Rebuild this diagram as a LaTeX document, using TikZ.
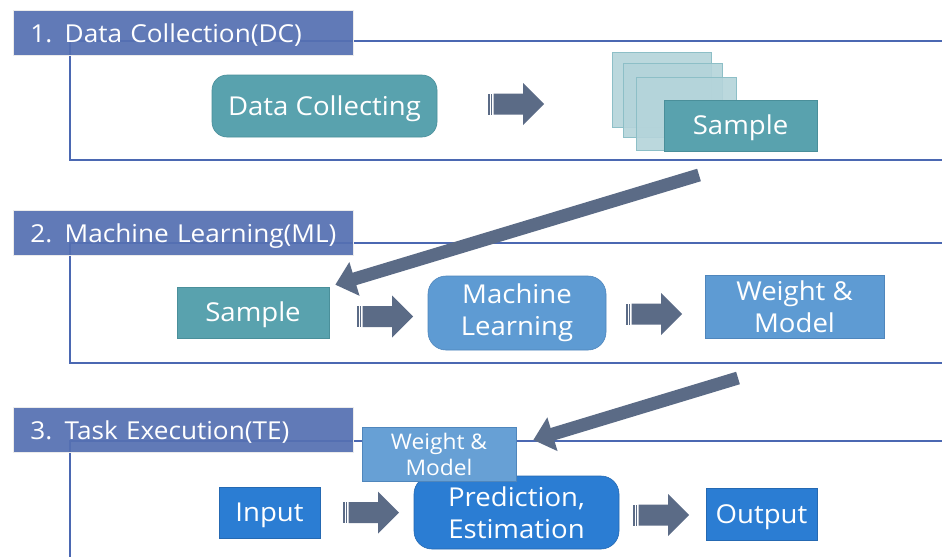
\documentclass[tikz,border=0pt]{standalone}
\usepackage{fontspec}
\setmainfont{Open Sans}[FakeStretch=1.06]
\usetikzlibrary{arrows.meta}

\definecolor{hdrblue}{HTML}{5570B2}
\definecolor{framecol}{HTML}{4B68B2}
\definecolor{tealfill}{HTML}{59A2AE}
\definecolor{tealedge}{HTML}{4A8F9A}
\definecolor{sheetfill}{HTML}{B4D4DA}
\definecolor{sheetedge}{HTML}{8DBFC7}
\definecolor{midblue}{HTML}{5E9BD3}
\definecolor{midedge}{HTML}{4F86BC}
\definecolor{softblue}{HTML}{67A0D5}
\definecolor{deepblue}{HTML}{2B7DD3}
\definecolor{deepedge}{HTML}{2569B2}
\definecolor{arrowgray}{HTML}{5B6B86}

\newcommand{\hdrtext}[1]{\hspace*{17pt}#1}

\tikzset{
  x=1pt, y=-1pt,
  every node/.style={inner sep=0pt, text=white, align=center},
  bigfont/.style={font=\fontsize{26}{32}\selectfont},
  smallfont/.style={font=\fontsize{21.5}{26}\selectfont},
  oneline/.style={text height=18.5pt, text depth=0pt},
  header/.style={fill=hdrblue, fill opacity=0.93, text opacity=1,
    draw=black!8, line width=0.8pt, anchor=north west,
    inner xsep=0pt, text width=340pt, minimum height=45pt, align=left,
    text height=18.5pt, text depth=0pt,
    font=\fontsize{24.7}{30}\selectfont},
  frame/.style={draw=framecol, line width=2pt},
  tealbox/.style={fill=tealfill, draw=tealedge, line width=0.6pt, bigfont},
  sheet/.style={fill=sheetfill, draw=sheetedge, line width=0.8pt, fill opacity=0.9},
  midbox/.style={fill=midblue, draw=midedge, line width=0.6pt, bigfont},
  softbox/.style={fill=softblue, draw=midedge, line width=0.6pt, smallfont},
  deepbox/.style={fill=deepblue, draw=deepedge, line width=0.6pt, bigfont},
  bigarrow/.style={draw=arrowgray, line width=13pt,
    -{Triangle[length=20pt, width=34pt]}},
  blockarrow/.pic={
    \fill[arrowgray] (0,-10.5) rectangle (1.6,10.5);
    \fill[arrowgray] (2.8,-10.5) rectangle (4.4,10.5);
    \fill[arrowgray] (5.6,-10.5) -- (35,-10.5) -- (35,-21) -- (56,0)
      -- (35,21) -- (35,10.5) -- (5.6,10.5) -- cycle;
  }
}

\begin{document}
\begin{tikzpicture}
\useasboundingbox (0,0) rectangle (942,557);
\fill[white] (0,0) rectangle (942,557);

% ---------- section frames ----------
\draw[frame] (942,41) -- (70,41) -- (70,160) -- (942,160);
\draw[frame] (942,243) -- (70,243) -- (70,363) -- (942,363);
\draw[frame] (942,441) -- (70,441) -- (70,557);

% ---------- section headers ----------
\node[header] (h1) at (13,10)  {\hdrtext{1. Data Collection(DC)}};
\node[header] (h2) at (13,210) {\hdrtext{2. Machine Learning(ML)}};
\node[header] (h3) at (13,407) {\hdrtext{3. Task Execution(TE)}};

% ---------- 1. data collection ----------
\node[tealbox, oneline, rounded corners=15pt, minimum width=225pt, minimum height=62pt]
  (dc) at (324.5,106) {Data Collecting};
\pic at (488,104) {blockarrow};
\node[sheet, minimum width=99pt, minimum height=75pt] (sh1) at (661.5,89.5) {};
\node[sheet, minimum width=99pt, minimum height=74pt] (sh2) at (672.5,100) {};
\node[sheet, minimum width=100pt, minimum height=73pt] (sh3) at (686,113.5) {};
\node[tealbox, oneline, minimum width=153pt, minimum height=51pt] (s1) at (740.5,125.5) {Sample};

% ---------- 2. machine learning ----------
\node[tealbox, oneline, minimum width=152pt, minimum height=51pt] (s2) at (253,312.5) {Sample};
\pic at (357,316.5) {blockarrow};
\node[midbox, rounded corners=18pt, minimum width=178pt, minimum height=74pt]
  (ml) at (517,313) {Machine\\Learning};
\pic at (626,314) {blockarrow};
\node[midbox, minimum width=179pt, minimum height=63pt]
  (wm) at (794.5,306.5) {Weight \&\\Model};

% ---------- 3. task execution ----------
\node[deepbox, oneline, minimum width=101pt, minimum height=51pt] (in) at (269.5,512.5) {Input};
\pic at (343,512.5) {blockarrow};
\node[deepbox, rounded corners=18pt, minimum width=205pt, minimum height=73pt]
  (pe) at (516.5,512.5) {Prediction,\\Estimation};
\pic at (633,515) {blockarrow};
\node[deepbox, oneline, minimum width=111pt, minimum height=52pt] (out) at (761.5,514) {Output};
\node[softbox, minimum width=154pt, minimum height=54pt]
  (wm2) at (439,454) {Weight \&\\Model};

% ---------- transfers between sections ----------
\coordinate (t1) at (699,175);
\coordinate (t2) at (738,378);
\draw[bigarrow] (t1) -- ([shift={(6,-2)}]s2.north east);
\draw[bigarrow] (t2) -- ([shift={(17,-14)}]wm2.east);
\end{tikzpicture}
\end{document}
